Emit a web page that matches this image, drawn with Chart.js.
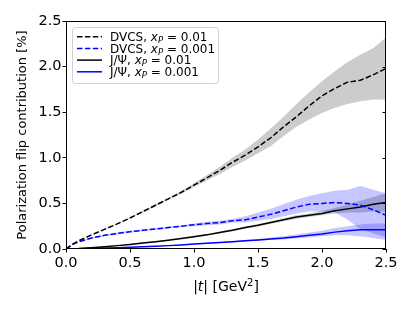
<!DOCTYPE html>
<html>
<head>
<meta charset="utf-8">
<script src="https://cdn.jsdelivr.net/npm/chart.js@4.4.0/dist/chart.umd.min.js"></script>
<style>
  html, body { margin: 0; padding: 0; background: #fff; }
  #wrap { width: 415px; height: 311px; }
</style>
</head>
<body>
<div id="wrap"><canvas id="chart" width="415" height="311"></canvas></div>
<script>
// |t| grid shared by all curves
const tGrid = [0, 0.05, 0.1, 0.2, 0.3, 0.4, 0.5, 0.6, 0.7, 0.8, 0.9, 1.0, 1.1, 1.2, 1.3, 1.4, 1.5, 1.6, 1.7, 1.8, 1.9, 2.0, 2.1, 2.2, 2.3, 2.4, 2.5];

// DVCS, x_P = 0.01 (black dashed)
const dvcs01 = [0, 0.05, 0.09, 0.155, 0.215, 0.275, 0.34, 0.41, 0.48, 0.55, 0.62, 0.70, 0.78, 0.86, 0.95, 1.03, 1.12, 1.22, 1.34, 1.45, 1.57, 1.68, 1.76, 1.83, 1.85, 1.91, 1.98];
const dvcs01Hi = [0, 0.05, 0.09, 0.155, 0.215, 0.28, 0.345, 0.42, 0.49, 0.56, 0.635, 0.72, 0.81, 0.90, 1.00, 1.09, 1.20, 1.32, 1.45, 1.59, 1.72, 1.84, 1.95, 2.05, 2.13, 2.20, 2.32];
const dvcs01Lo = [0, 0.05, 0.09, 0.155, 0.215, 0.27, 0.335, 0.40, 0.47, 0.54, 0.605, 0.68, 0.75, 0.82, 0.90, 0.97, 1.05, 1.13, 1.24, 1.34, 1.42, 1.49, 1.55, 1.59, 1.62, 1.64, 1.64];

// DVCS, x_P = 0.001 (blue dashed)
const dvcs001 = [0, 0.05, 0.08, 0.12, 0.15, 0.17, 0.19, 0.205, 0.22, 0.235, 0.25, 0.265, 0.28, 0.29, 0.31, 0.32, 0.35, 0.38, 0.42, 0.46, 0.49, 0.50, 0.51, 0.50, 0.48, 0.43, 0.37];
const dvcs001Hi = [0, 0.05, 0.08, 0.13, 0.16, 0.18, 0.20, 0.215, 0.23, 0.245, 0.26, 0.28, 0.30, 0.31, 0.33, 0.36, 0.40, 0.44, 0.49, 0.54, 0.58, 0.61, 0.64, 0.65, 0.69, 0.65, 0.61];
const dvcs001Lo = [0, 0.05, 0.08, 0.11, 0.14, 0.16, 0.18, 0.195, 0.21, 0.225, 0.24, 0.25, 0.26, 0.27, 0.29, 0.29, 0.31, 0.33, 0.36, 0.39, 0.41, 0.41, 0.40, 0.32, 0.22, 0.17, 0.13];

// J/Psi, x_P = 0.01 (black solid)
const jpsi01 = [0, 0.002, 0.005, 0.015, 0.025, 0.037, 0.05, 0.065, 0.08, 0.097, 0.115, 0.135, 0.155, 0.18, 0.205, 0.235, 0.26, 0.29, 0.32, 0.35, 0.37, 0.39, 0.42, 0.44, 0.46, 0.49, 0.51];
const jpsi01Hi = [0, 0.002, 0.005, 0.016, 0.027, 0.04, 0.054, 0.07, 0.086, 0.104, 0.123, 0.144, 0.165, 0.19, 0.216, 0.247, 0.273, 0.304, 0.336, 0.37, 0.39, 0.42, 0.45, 0.49, 0.53, 0.57, 0.61];
const jpsi01Lo = [0, 0.002, 0.005, 0.014, 0.023, 0.034, 0.046, 0.06, 0.074, 0.09, 0.107, 0.126, 0.145, 0.17, 0.194, 0.223, 0.247, 0.276, 0.304, 0.33, 0.35, 0.37, 0.39, 0.40, 0.40, 0.41, 0.41];

// J/Psi, x_P = 0.001 (blue solid)
const jpsi001 = [0, 0.001, 0.003, 0.007, 0.011, 0.015, 0.02, 0.025, 0.03, 0.037, 0.045, 0.055, 0.062, 0.07, 0.08, 0.09, 0.10, 0.11, 0.12, 0.135, 0.15, 0.165, 0.185, 0.20, 0.21, 0.21, 0.21];
const jpsi001Hi = [0, 0.001, 0.003, 0.008, 0.012, 0.017, 0.022, 0.028, 0.034, 0.041, 0.05, 0.06, 0.068, 0.077, 0.088, 0.099, 0.11, 0.125, 0.14, 0.16, 0.18, 0.20, 0.23, 0.25, 0.27, 0.28, 0.28];
const jpsi001Lo = [0, 0.001, 0.003, 0.006, 0.010, 0.013, 0.018, 0.022, 0.026, 0.033, 0.04, 0.05, 0.056, 0.063, 0.072, 0.081, 0.09, 0.10, 0.105, 0.115, 0.125, 0.14, 0.15, 0.15, 0.14, 0.12, 0.10];

// axis ticks
const xTicks = [0, 0.5, 1.0, 1.5, 2.0, 2.5];
const yTicks = [0, 0.5, 1.0, 1.5, 2.0, 2.5];

const legendItems = [
    { proc: 'DVCS', xp: '0.01', color: '#000000', dash: [5.5, 2.4] },
    { proc: 'DVCS', xp: '0.001', color: '#0000ff', dash: [5.5, 2.4] },
    { proc: 'J/\u03a8', xp: '0.01', color: '#000000', dash: [] },
    { proc: 'J/\u03a8', xp: '0.001', color: '#0000ff', dash: [] }
];

const pts = arr => arr.map((v, i) => ({ x: tGrid[i], y: v }));

function band(lo, hi, fillColor) {
    return [
        { data: pts(lo), borderWidth: 0, pointRadius: 0, fill: false, tension: 0 },
        { data: pts(hi), borderWidth: 0, pointRadius: 0, fill: '-1', backgroundColor: fillColor, tension: 0 }
    ];
}

function curve(arr, color, dash) {
    return { data: pts(arr), borderColor: color, borderWidth: 1.5, borderDash: dash, pointRadius: 0, fill: false, tension: 0 };
}

const FONT = 'DejaVu Sans';
const grayFill = 'rgba(128,128,128,0.4)';
const blueFill = 'rgba(0,0,255,0.22)';

// frame, right-side ticks, axis titles and legend
const decorPlugin = {
    id: 'decor',
    afterDraw(chart) {
        const ctx = chart.ctx;
        const a = chart.chartArea;
        const ys = chart.scales.y;
        ctx.save();
        ctx.strokeStyle = '#000';
        ctx.lineWidth = 1;
        ctx.strokeRect(a.left + 0.5, a.top + 0.5, a.right - a.left - 1, a.bottom - a.top - 1);
        // inner ticks on the right
        yTicks.forEach(v => {
            const py = Math.round(ys.getPixelForValue(v)) + 0.5;
            ctx.beginPath();
            ctx.moveTo(a.right, py);
            ctx.lineTo(a.right - 3.5, py);
            ctx.stroke();
        });

        // y axis title
        ctx.fillStyle = '#000';
        ctx.save();
        ctx.translate(23, (a.top + a.bottom) / 2);
        ctx.rotate(-Math.PI / 2);
        ctx.font = '13px "' + FONT + '"';
        ctx.textAlign = 'center';
        ctx.textBaseline = 'middle';
        ctx.fillText('Polarization flip contribution [%]', 0, 0);
        ctx.restore();

        // x axis title |t| [GeV^2]
        ctx.textBaseline = 'alphabetic';
        ctx.textAlign = 'left';
        const cx = (a.left + a.right) / 2;
        const by = 291;
        const parts = [
            { s: '|', f: '14px "' + FONT + '"' },
            { s: 't', f: 'italic 14px "' + FONT + '"' },
            { s: '| [GeV', f: '14px "' + FONT + '"' },
            { s: '2', f: '10px "' + FONT + '"', up: 5 },
            { s: ']', f: '14px "' + FONT + '"' }
        ];
        let w = 0;
        parts.forEach(p => { ctx.font = p.f; w += ctx.measureText(p.s).width; });
        let x = cx - w / 2;
        parts.forEach(p => {
            ctx.font = p.f;
            ctx.fillText(p.s, x, by - (p.up || 0));
            x += ctx.measureText(p.s).width;
        });

        // legend box
        const lx = 72.5, ly = 27.5, lw = 146, lh = 56;
        ctx.beginPath();
        ctx.roundRect(lx, ly, lw, lh, 3);
        ctx.fillStyle = 'rgba(255,255,255,0.8)';
        ctx.fill();
        ctx.strokeStyle = '#d0d0d0';
        ctx.lineWidth = 1;
        ctx.stroke();

        legendItems.forEach((it, i) => {
            const rowY = 36.7 + i * 11.7;
            ctx.strokeStyle = it.color;
            ctx.lineWidth = 1.5;
            ctx.setLineDash(it.dash);
            ctx.beginPath();
            ctx.moveTo(77, rowY);
            ctx.lineTo(102, rowY);
            ctx.stroke();
            ctx.setLineDash([]);

            ctx.fillStyle = '#000';
            ctx.textBaseline = 'middle';
            let tx = 110;
            const seg = [
                { s: it.proc + ', ', f: '12px "' + FONT + '"' },
                { s: 'x', f: 'italic 12px "' + FONT + '"' },
                { s: 'P', f: 'italic 8.5px "' + FONT + '"', dy: 3 },
                { s: ' = ' + it.xp, f: '12px "' + FONT + '"' }
            ];
            seg.forEach(p => {
                ctx.font = p.f;
                ctx.fillText(p.s, tx, rowY + 1 + (p.dy || 0));
                tx += ctx.measureText(p.s).width;
            });
        });
        ctx.restore();
    }
};

const datasets = [
    curve(dvcs01, '#000000', [5.5, 2.4]),
    curve(dvcs001, '#0000ff', [5.5, 2.4]),
    curve(jpsi01, '#000000', []),
    curve(jpsi001, '#0000ff', []),
    ...band(dvcs01Lo, dvcs01Hi, grayFill),
    ...band(dvcs001Lo, dvcs001Hi, blueFill),
    ...band(jpsi01Lo, jpsi01Hi, grayFill),
    ...band(jpsi001Lo, jpsi001Hi, blueFill)
];

new Chart(document.getElementById('chart'), {
    type: 'line',
    data: { datasets: datasets },
    options: {
        responsive: false,
        animation: false,
        layout: { padding: { left: 0, right: 29, top: 21, bottom: 0 } },
        plugins: { legend: { display: false }, tooltip: { enabled: false } },
        scales: {
            x: {
                type: 'linear',
                min: 0,
                max: 2.5,
                afterFit(scale) { scale.height = 62; },
                afterBuildTicks(scale) { scale.ticks = xTicks.map(v => ({ value: v })); },
                grid: { drawOnChartArea: false, drawTicks: true, tickLength: 3.5, color: '#000' },
                border: { display: false },
                ticks: {
                    color: '#000',
                    padding: 2,
                    font: { family: FONT, size: 14.5 },
                    callback: v => v.toFixed(1)
                }
            },
            y: {
                min: 0,
                max: 2.5,
                afterFit(scale) { scale.width = 66; },
                afterBuildTicks(scale) { scale.ticks = yTicks.map(v => ({ value: v })); },
                grid: { drawOnChartArea: false, drawTicks: true, tickLength: 3.5, color: '#000' },
                border: { display: false },
                ticks: {
                    color: '#000',
                    padding: 1,
                    font: { family: FONT, size: 14.5 },
                    callback: v => v.toFixed(1)
                }
            }
        }
    },
    plugins: [decorPlugin]
});
</script>
</body>
</html>
